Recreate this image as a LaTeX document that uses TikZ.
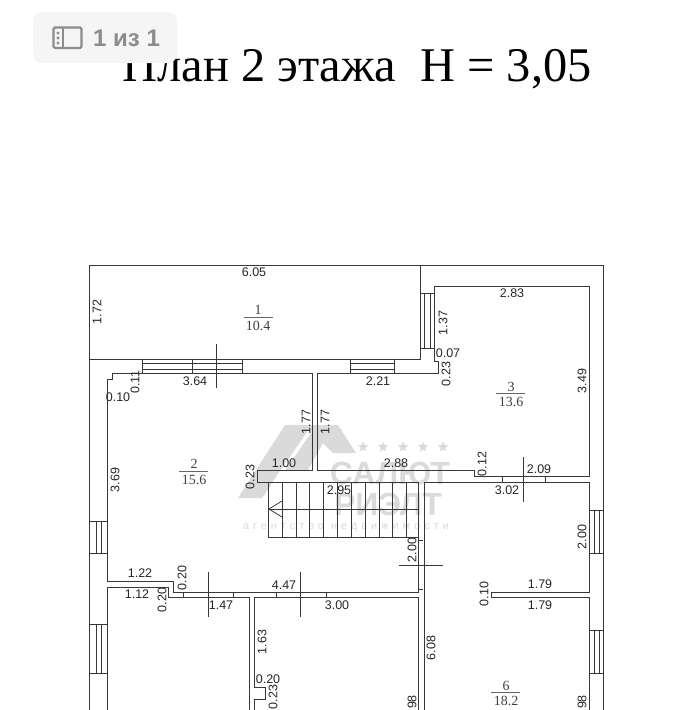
\documentclass[tikz,border=0pt]{standalone}
\usepackage{fontspec}
\setmainfont{Liberation Serif}
\setsansfont{Liberation Sans}
\newfontfamily\markfont[LetterSpace=36]{Liberation Sans}
\usetikzlibrary{shapes.geometric}
\definecolor{planline}{HTML}{383838}
\definecolor{markgray}{HTML}{DADADA}
\tikzset{
  wall/.style={draw=planline, line width=1pt},
  thinwall/.style={draw=planline, line width=0.8pt},
  dimtext/.style={font=\sffamily\fontsize{12.5}{12.5}\selectfont, text=black!85, inner sep=0pt},
  dimup/.style={dimtext, rotate=90},
  roomtext/.style={font=\fontsize{14}{14}\selectfont, text=black!75, inner sep=0pt},
  roomline/.style={draw=black!60, line width=0.6pt},
  markstar/.style={star, star points=5, star point ratio=2.4, fill=markgray, minimum size=11pt, inner sep=0pt}
}
\begin{document}
\begin{tikzpicture}[x=1pt, y=-1pt]
            % Define parameters
            \def\outerL{89}  % Left outer line
            \def\outerR{603}  % Right outer line
            \def\innerL{107}  % Left inner line
            \def\innerR{589}  % Right inner line
            \def\yB{710}  % Picture bottom

            \fill[white] (0,0) rectangle (698,710);
            \clip (0,0) rectangle (698,710);

            % Title
            \node[anchor=base, inner sep=0pt, font=\fontsize{48.4}{48.4}\selectfont] (title) at (357,81) {План 2 этажа\ \ H = 3,05};

            % Page badge
            \fill[black!4, rounded corners=9pt] (33,12) rectangle (177,63);
            \draw[black!45, line width=2.4pt, rounded corners=1.5pt] (53.5,27.5) rectangle (81.5,48);
            \draw[black!45, line width=2.4pt] (63,27.5) -- (63,48);
            \fill[black!45] (58,33) circle (1.7pt) (58,38) circle (1.7pt) (58,43) circle (1.7pt);
            \node[anchor=west, inner sep=0pt, text=black!45, font=\sffamily\bfseries\fontsize{24}{24}\selectfont] (badge) at (93,38) {1 из 1};

            % Watermark
            \fill[markgray] (238,498) -- (285,425) -- (338,425) -- (356,453) -- (333,453) -- (323,443) -- (308,470) -- (282,470) -- (262,498) -- cycle;
            \draw[white, line width=3.5pt] (272,486) -- (310,431);
            \node[markstar] (star1) at (363,447) {};
            \node[markstar] (star2) at (383,447) {};
            \node[markstar] (star3) at (403,447) {};
            \node[markstar] (star4) at (423,447) {};
            \node[markstar] (star5) at (443,447) {};
            \node[text=markgray, inner sep=0pt, font=\sffamily\bfseries\fontsize{32}{32}\selectfont] (markA) at (390,473) {САЛЮТ};
            \node[text=markgray, inner sep=0pt, font=\sffamily\bfseries\fontsize{32}{32}\selectfont] (markB) at (388,504) {РИЭЛТ};
            \node[text=markgray, inner sep=0pt, font=\markfont\fontsize{11}{11}\selectfont] (markC) at (346,528) {агентство недвижимости};

            % Draw outer contour
            \draw[wall] (\outerL,\yB) -- (\outerL,265) -- (\outerR,265) -- (\outerR,\yB);
            \draw[wall] (\outerL,359) -- (420,359) -- (420,265);

            % Draw room 2 and room 3 walls
            \draw[wall] (\innerL,581) -- (\innerL,379) -- (112,379) -- (112,373) -- (312,373) -- (312,470) -- (257,470) -- (257,482) -- (418,482);
            \draw[wall] (317,470) -- (317,373) -- (438,373) -- (438,361) -- (434,361) -- (434,286) -- (\innerR,286) -- (\innerR,476) -- (474,476) -- (474,470) -- (317,470);
            \draw[wall] (424,482) -- (\innerR,482) -- (\innerR,592) -- (491,592) -- (491,597) -- (\innerR,597) -- (\innerR,\yB);

            % Draw lower walls
            \draw[wall] (\innerL,581) -- (173,581) -- (173,592) -- (418,592) -- (418,589);
            \draw[wall] (\innerL,\yB) -- (\innerL,587) -- (168,587) -- (168,597) -- (249,597) -- (249,\yB);
            \draw[wall] (254,\yB) -- (254,699) -- (265,699) -- (265,687) -- (254,687) -- (254,597) -- (418,597) -- (418,\yB);
            \draw[wall] (418,482) -- (418,589) -- (423,589);
            \draw[wall] (418,540) -- (423,540);
            \draw[wall] (424,482) -- (424,\yB);

            % Draw stairs
            \draw[thinwall] (268,482) -- (268,537) -- (418,537);
            \draw[thinwall] (268,509) -- (418,509);
            \draw[thinwall] (282,482) -- (282,537);
            \draw[thinwall] (296,482) -- (296,537);
            \draw[thinwall] (309,482) -- (309,537);
            \draw[thinwall] (323,482) -- (323,537);
            \draw[thinwall] (337,482) -- (337,537);
            \draw[thinwall] (351,482) -- (351,537);
            \draw[thinwall] (365,482) -- (365,537);
            \draw[thinwall] (379,482) -- (379,537);
            \draw[thinwall] (392,482) -- (392,537);
            \draw[thinwall] (406,482) -- (406,537);
            \draw[thinwall] (282,501) -- (269,509) -- (282,517);

            % Draw windows
            \draw[thinwall] (142,359) rectangle (242,373);
            \draw[thinwall] (142,363.5) -- (242,363.5);
            \draw[thinwall] (142,369) -- (242,369);
            \draw[thinwall] (192,359) -- (192,373);
            \draw[thinwall] (350,359) rectangle (394,373);
            \draw[thinwall] (350,363.5) -- (394,363.5);
            \draw[thinwall] (350,369) -- (394,369);
            \draw[thinwall] (420,293) rectangle (434,348);
            \draw[thinwall] (424.5,293) -- (424.5,348);
            \draw[thinwall] (430,293) -- (430,348);
            \draw[thinwall] (\outerL,521) rectangle (\innerL,553);
            \draw[thinwall] (96,521) -- (96,553);
            \draw[thinwall] (101,521) -- (101,553);
            \draw[thinwall] (\outerL,624) rectangle (\innerL,673);
            \draw[thinwall] (96,624) -- (96,673);
            \draw[thinwall] (101,624) -- (101,673);
            \draw[thinwall] (\innerR,510) rectangle (\outerR,553);
            \draw[thinwall] (594,510) -- (594,553);
            \draw[thinwall] (599,510) -- (599,553);
            \draw[thinwall] (\innerR,630) rectangle (\outerR,673);
            \draw[thinwall] (594,630) -- (594,673);
            \draw[thinwall] (599,630) -- (599,673);
            \draw[thinwall] (502,476) rectangle (545,482);

            % Draw door ticks
            \draw[thinwall] (216,344) -- (216,388);
            \draw[thinwall] (523,457) -- (523,502);
            \draw[thinwall] (208,572) -- (208,617);
            \draw[thinwall] (300,572) -- (300,617);
            \draw[thinwall] (399,565) -- (443,565);
            \draw[thinwall] (183,592) -- (183,597);
            \draw[thinwall] (233,592) -- (233,597);
            \draw[thinwall] (276,592) -- (276,597);
            \draw[thinwall] (326,592) -- (326,597);

            % Room numbers and areas
            \node[roomtext] (room1) at (258,310) {1};
            \draw[roomline] (244,317) -- (273,317);
            \node[roomtext] (area1) at (258,326) {10.4};
            \node[roomtext] (room2) at (194,464) {2};
            \draw[roomline] (179,471) -- (208,471);
            \node[roomtext] (area2) at (194,480) {15.6};
            \node[roomtext] (room3) at (511,387) {3};
            \draw[roomline] (496,393) -- (525,393);
            \node[roomtext] (area3) at (511,402) {13.6};
            \node[roomtext] (room6) at (506,686) {6};
            \draw[roomline] (491,692) -- (520,692);
            \node[roomtext] (area6) at (506,701) {18.2};

            % Horizontal dimensions
            \node[dimtext] (dimA) at (254,272) {6.05};
            \node[dimtext] (dimB) at (195,381) {3.64};
            \node[dimtext] (dimC) at (118,397) {0.10};
            \node[dimtext] (dimD) at (284,463) {1.00};
            \node[dimtext] (dimE) at (512,293) {2.83};
            \node[dimtext] (dimF) at (448,353) {0.07};
            \node[dimtext] (dimG) at (378,381) {2.21};
            \node[dimtext] (dimH) at (396,463) {2.88};
            \node[dimtext] (dimI) at (539,469) {2.09};
            \node[dimtext] (dimJ) at (507,490) {3.02};
            \node[dimtext] (dimK) at (339,490) {2.95};
            \node[dimtext] (dimL) at (540,584) {1.79};
            \node[dimtext] (dimM) at (540,605) {1.79};
            \node[dimtext] (dimN) at (140,573) {1.22};
            \node[dimtext] (dimO) at (137,594) {1.12};
            \node[dimtext] (dimP) at (221,605) {1.47};
            \node[dimtext] (dimQ) at (284,585) {4.47};
            \node[dimtext] (dimR) at (337,605) {3.00};
            \node[dimtext] (dimS) at (268,679) {0.20};

            % Vertical dimensions
            \node[dimup] (dimT) at (97,312) {1.72};
            \node[dimup] (dimU) at (135,382) {0.11};
            \node[dimup] (dimV) at (306,422) {1.77};
            \node[dimup] (dimW) at (325,422) {1.77};
            \node[dimup] (dimX) at (250,477) {0.23};
            \node[dimup] (dimY) at (115,480) {3.69};
            \node[dimup] (dimZ) at (443,323) {1.37};
            \node[dimup] (dimAA) at (446,374) {0.23};
            \node[dimup] (dimAB) at (582,381) {3.49};
            \node[dimup] (dimAC) at (482,464) {0.12};
            \node[dimup] (dimAD) at (412,550) {2.00};
            \node[dimup] (dimAE) at (582,537) {2.00};
            \node[dimup] (dimAF) at (484,594) {0.10};
            \node[dimup] (dimAG) at (431,648) {6.08};
            \node[dimup] (dimAH) at (412,702) {98};
            \node[dimup] (dimAI) at (582,702) {98};
            \node[dimup] (dimAJ) at (182,578) {0.20};
            \node[dimup] (dimAK) at (162,600) {0.20};
            \node[dimup] (dimAL) at (262,642) {1.63};
            \node[dimup] (dimAM) at (273,697) {0.23};

        \end{tikzpicture}
\end{document}
